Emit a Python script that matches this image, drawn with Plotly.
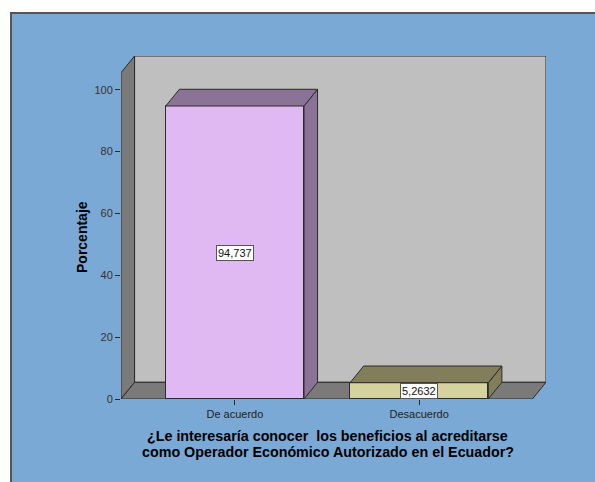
import plotly.graph_objects as go

categories = ["De acuerdo", "Desacuerdo"]
percentages = [94.737, 5.2632]
value_labels = ["94,737", "5,2632"]
y_ticks = [0, 20, 40, 60, 80, 100]

front_colors = ["#e0b9f3", "#d6d29e"]
shade_colors = ["#8a7396", "#827e5c"]

# plot area geometry (data units)
XMIN, XMAX = -0.618, 1.688
YTOP = 105.5          # top of the walls on the front plane
DX, DY = 0.0735, 5.4  # depth of the 3D effect
BAR_W = 0.75
EDGE = dict(color="#2b2b2b", width=1)

PL, PT, PW, PH = 121, 56, 425, 343

x_pos = list(range(len(categories)))

fig = go.Figure()
fig.add_trace(go.Bar(
    x=x_pos, y=percentages, width=BAR_W,
    marker=dict(color=front_colors, line=EDGE),
    hoverinfo="skip",
))


def px(x):
    return (x - PL) / PW


def py(y):
    return (PT + PH - y) / PH


shapes = []
# blue panel behind everything
shapes.append(dict(type="rect", xref="paper", yref="paper",
                   x0=px(11), x1=2, y0=-1, y1=py(13),
                   fillcolor="#7ba9d5", line=dict(color="#555555", width=2), layer="below"))
# back wall
shapes.append(dict(type="rect", xref="x", yref="y", x0=XMIN + DX, x1=XMAX,
                   y0=DY, y1=YTOP + DY, fillcolor="#bfbfbf", line=EDGE, layer="below"))
# left wall
shapes.append(dict(type="path", xref="x", yref="y", layer="below",
                   path=f"M{XMIN},0 L{XMIN},{YTOP} L{XMIN + DX},{YTOP + DY} L{XMIN + DX},{DY} Z",
                   fillcolor="#7a7a7a", line=EDGE))
# floor
shapes.append(dict(type="path", xref="x", yref="y", layer="below",
                   path=f"M{XMIN},0 L{XMAX - DX},0 L{XMAX},{DY} L{XMIN + DX},{DY} Z",
                   fillcolor="#7a7a7a", line=EDGE))

# bar tops and sides
for xc, v, c in zip(x_pos, percentages, shade_colors):
    l, r = xc - BAR_W / 2, xc + BAR_W / 2
    shapes.append(dict(type="path", xref="x", yref="y", layer="above",
                       path=f"M{r},0 L{r},{v} L{r + DX},{v + DY} L{r + DX},{DY} Z",
                       fillcolor=c, line=EDGE))
    shapes.append(dict(type="path", xref="x", yref="y", layer="above",
                       path=f"M{l},{v} L{r},{v} L{r + DX},{v + DY} L{l + DX},{v + DY} Z",
                       fillcolor=c, line=EDGE))

annotations = []
for xc, v, t in zip(x_pos, percentages, value_labels):
    annotations.append(dict(x=xc, y=v / 2, xref="x", yref="y", text=t, showarrow=False,
                            font=dict(family="Liberation Sans", size=11, color="#111"),
                            bgcolor="white", bordercolor="#555555", borderwidth=1, borderpad=1))

annotations.append(dict(x=px(82), y=py(237), xref="paper", yref="paper",
                        xanchor="center", yanchor="middle",
                        text="<b>Porcentaje</b>", textangle=-90, showarrow=False,
                        font=dict(family="Liberation Sans", size=14, color="black")))

title_lines = ["¿Le interesaría conocer\u00a0 los beneficios al acreditarse",
               "como Operador Económico Autorizado en el Ecuador?"]
for line, yy in zip(title_lines, [436.5, 451.5]):
    annotations.append(dict(x=px(327.5), y=py(yy), xref="paper", yref="paper",
                            xanchor="center", yanchor="middle",
                            text=f"<b>{line}</b>", showarrow=False,
                            font=dict(family="Liberation Sans", size=14.3, color="black")))

fig.update_layout(
    width=595, height=482,
    margin=dict(l=PL, r=595 - PL - PW, t=PT, b=482 - PT - PH),
    paper_bgcolor="white", plot_bgcolor="rgba(0,0,0,0)",
    showlegend=False, bargap=0,
    shapes=shapes, annotations=annotations,
    xaxis=dict(range=[XMIN, XMAX], tickvals=x_pos, ticktext=categories,
               ticks="outside", ticklen=5, tickcolor="#2b2b2b", showline=False,
               showgrid=False, zeroline=False,
               tickfont=dict(family="Liberation Sans", size=11, color="#222")),
    yaxis=dict(range=[0, YTOP + DY], tickvals=y_ticks, ticks="outside", ticklen=5,
               tickcolor="#2b2b2b", showline=False, showgrid=False, zeroline=False,
               tickfont=dict(family="Liberation Sans", size=11, color="#333")),
)

fig.write_html("out.html", config={"displayModeBar": False},
               post_script="document.body.style.margin='0';document.body.style.overflow='hidden';")
